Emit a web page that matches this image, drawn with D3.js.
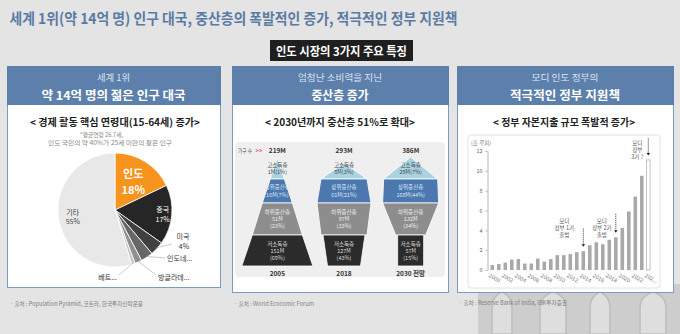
<!DOCTYPE html>
<html><head><meta charset="utf-8">
<script src="https://cdn.jsdelivr.net/npm/d3@7"></script>
<style>
html,body{margin:0;padding:0;background:#e4e4e4;}
svg{display:block;font-family:"Noto Sans CJK KR","Noto Sans",sans-serif;}
</style></head><body>
<svg id="c" width="680" height="334"></svg>
<script>
// ---------- DATA ----------
const pageTitle = "세계 1위(약 14억 명) 인구 대국, 중산층의 폭발적인 증가, 적극적인 정부 지원책";
const sectionLabel = "인도 시장의 3가지 주요 특징";

// Panel 1: population share
const pieCategories = ["인도","중국","미국","인도네...","방글라데...","베트...","기타"];
const pieValues = [18, 17, 4, 3.5, 2, 1, 55];
const piePctLabels = ["18%","17%","4%","","","","55%"];

// Panel 2: middle class households
const mcYears = ["2005","2018","2030 전망"];
const mcTotals = ["219M","293M","386M"];
const mcLayers = ["고소득층","상위중산층","하위중산층","저소득층"];
const mcValues2005 = [1, 16, 51, 151];
const mcValues2018 = [8, 61, 97, 127];
const mcValues2030 = [29, 168, 132, 57];
const mcShares2005 = [1, 7, 23, 69];
const mcShares2018 = [3, 21, 33, 43];
const mcShares2030 = [7, 44, 34, 15];

// Panel 3: government capex (조 루피)
const capexYears = [2000,2001,2002,2003,2004,2005,2006,2007,2008,2009,2010,2011,2012,2013,2014,2015,2016,2017,2018,2019,2020,2021,2022,2023,2024];
const capexValues = [0.5,0.6,0.75,1.05,1.1,0.65,0.65,1.15,0.85,1.1,1.5,1.5,1.6,1.8,1.9,2.5,2.8,2.6,3.05,3.3,4.25,5.9,7.4,9.5,11.1];
const capexTickYears = [2000,2002,2004,2006,2008,2010,2012,2014,2016,2018,2020,2022,2024];
const capexTickLabels = ["2000","2002","2004","2006","2008","2010","2012","2014","2016","2018","2020","2022","202..."];
const capexYTicks = [0,2,4,6,8,10,12];
const capexUnit = "(조 루피)";
const annoYears = [2014, 2019, 2024];
const annoTexts = [["모디","정부 1기","출범"],["모디","정부 2기","출범"],["모디","정부","3기 ?"]];

const sources = ["· 출처 : Population Pyramid, 코트라, 한국투자신탁운용","· 출처 : World Ecocomic Forum","· 출처 : Reserve Bank of India, IBK투자증권"];

// ---------- LAYOUT / STYLE ----------
const svg = d3.select("#c");
const BLUE = "#5c7fab", BORDER = "#7d9bc2";

function txt(g, x, y, s, o) {
  const t = g.append("text").attr("x", x).attr("y", y).text(s)
    .attr("font-size", o.size).attr("fill", o.fill || "#333")
    .attr("font-weight", o.bold ? 700 : 400)
    .attr("text-anchor", o.anchor || "middle")
    .attr("dominant-baseline", "central");
  if (o.width) t.attr("textLength", o.width).attr("lengthAdjust", "spacingAndGlyphs");
  return t;
}

// background decoration (facade)
const deco = svg.append("g");
deco.append("rect").attr("x", 478).attr("y", 284).attr("width", 202).attr("height", 50).attr("fill", "#cdcdcd");
[492, 540, 590, 640].forEach((x, i) => {
  const w = i % 2 ? 26 : 20, top = 296;
  deco.append("path")
    .attr("d", `M${x},334 L${x},${top+12} Q${x},${top} ${x+w/2},${top-4} Q${x+w},${top} ${x+w},${top+12} L${x+w},334 Z`)
    .attr("fill", "#dedede").attr("stroke", "#bdbdbd").attr("stroke-width", 1.5);
});

// Title
txt(svg, 9.5, 17, pageTitle, {size: 15, bold: true, fill: "#5b7ba4", anchor: "start", width: 448});
svg.append("rect").attr("x", 270).attr("y", 40).attr("width", 143).attr("height", 21).attr("fill", "#1f1f1f");
txt(svg, 341.5, 50.5, sectionLabel, {size: 12, bold: true, fill: "#fff", width: 131});

// Panels
const panels = [
  {x: 7, w: 213, h: 221, sm: "세계 1위", smW: 33, big: "약 14억 명의 젊은 인구 대국", bigW: 144,
   sub: "< 경제 활동 핵심 연령대(15-64세) 증가>", subW: 170, subX: 115},
  {x: 232, w: 216, h: 226, sm: "엄청난 소비력을 지닌", smW: 84, big: "중산층 증가", bigW: 57,
   sub: "< 2030년까지 중산층 51%로 확대>", subW: 150, subX: 340},
  {x: 457, w: 216, h: 226, sm: "모디 인도 정부의", smW: 67, big: "적극적인 정부 지원책", bigW: 110,
   sub: "< 정부 자본지출 규모 폭발적 증가>", subW: 142, subX: 564}
];
panels.forEach(p => {
  svg.append("rect").attr("x", p.x + 0.5).attr("y", 66.5).attr("width", p.w).attr("height", p.h)
    .attr("fill", "#fff").attr("stroke", BORDER).attr("stroke-width", 1);
  svg.append("rect").attr("x", p.x).attr("y", 66).attr("width", p.w + 1).attr("height", 39).attr("fill", BLUE);
  const cx = p.x + p.w / 2;
  txt(svg, cx, 77.5, p.sm, {size: 9, fill: "#dbe5f1", width: p.smW});
  txt(svg, cx, 94, p.big, {size: 12, bold: true, fill: "#fff", width: p.bigW});
  txt(svg, p.subX, 121.5, p.sub, {size: 10, bold: true, fill: "#222", width: p.subW});
});

// ---------- Panel 1: pie ----------
txt(svg, 101.5, 134, "*평균연령 26.7세,", {size: 6, fill: "#888", width: 43});
txt(svg, 110, 142, "인도 국민의 약 40%가 25세 미만의 젊은 인구", {size: 6.2, fill: "#888", width: 124});

const pieColors = ["#f7941d","#262626","#404040","#676767","#8f8f8f","#c4c4c4","#e8e8e8"];
const pcx = 115, pcy = 210, pr = 57;
const pieG = svg.append("g").attr("transform", `translate(${pcx},${pcy})`);
const arcs = d3.pie().sort(null).value(d => d)(pieValues);
const arcGen = d3.arc().innerRadius(0).outerRadius(pr);
pieG.selectAll("path").data(arcs).join("path").attr("d", arcGen)
  .attr("fill", (d, i) => pieColors[i]).attr("stroke", "#fff").attr("stroke-width", 0.8);

const polar = (a, r) => [Math.sin(a) * r, -Math.cos(a) * r];
const mid = d => (d.startAngle + d.endAngle) / 2;
// inside labels
const inside = [
  {i: 0, rf: 0.6, size: 11, bold: true, fill: "#fff", gap: 8},
  {i: 1, rf: 0.84, size: 7, bold: false, fill: "#fff", gap: 4.7},
  {i: 6, rf: 0.75, size: 7, bold: false, fill: "#444", gap: 4.7}
];
inside.forEach(L => {
  const [x, y] = polar(mid(arcs[L.i]), pr * L.rf);
  txt(pieG, x, y - L.gap, pieCategories[L.i], {size: L.size, bold: L.bold, fill: L.fill});
  txt(pieG, x, y + L.gap, piePctLabels[L.i], {size: L.size, bold: L.bold, fill: L.fill});
});
// outside labels (layout relative to pie centre)
const outside = [
  {i: 2, lx: 68, ly: 31, ex: 57, ey: 34, anchor: "middle"},
  {i: 3, lx: 52, ly: 48, ex: 50, ey: 48, anchor: "start"},
  {i: 4, lx: 43, ly: 67, ex: 41, ey: 65, anchor: "start"},
  {i: 5, lx: 2, ly: 67, ex: 4, ey: 65, anchor: "end"}
];
outside.forEach(L => {
  const [sx, sy] = polar(mid(arcs[L.i]), pr - 1);
  pieG.append("line").attr("x1", sx).attr("y1", sy).attr("x2", L.ex).attr("y2", L.ey)
    .attr("stroke", "#a8a8a8").attr("stroke-width", 0.6);
  if (piePctLabels[L.i]) {
    txt(pieG, L.lx, L.ly - 4.7, pieCategories[L.i], {size: 7, fill: "#333"});
    txt(pieG, L.lx + 1, L.ly + 4.7, piePctLabels[L.i], {size: 7, fill: "#333"});
  } else {
    txt(pieG, L.lx, L.ly, pieCategories[L.i], {size: 7, fill: "#333", anchor: L.anchor});
  }
});

// ---------- Panel 2: pyramids ----------
svg.append("rect").attr("x", 235).attr("y", 142).attr("width", 210).attr("height", 135).attr("rx", 4).attr("fill", "#efefef");
txt(svg, 238, 150, "가구 수", {size: 6, fill: "#555", anchor: "start", width: 14});
txt(svg, 255.5, 150, ">>", {size: 6, fill: "#e35a5a", anchor: "start", bold: true, width: 7});

const mcX = d3.scaleBand().domain(mcYears).range([244, 444]);
const mcValues = [mcValues2005, mcValues2018, mcValues2030];
const mcShares = [mcShares2005, mcShares2018, mcShares2030];
const layerY = [158, 179, 203, 235, 266];
const apexY = [158, 163, 157];
// half widths [top, bottom] per layer (shape profile)
const profile = [
  [[0, 7], [7, 15], [15, 25], [25, 35.5]],
  [[0, 23], [23, 27], [27, 23], [21, 16.5]],
  [[0, 27], [27, 28], [28, 15], [13, 13]]
];
const layerFill = ["#a9d3e1", "#4c78b0", "#8d8d8d", "#2b2b2b"];
const layerText = ["#4a4a4a", "#dde7f3", "#eeeeee", "#dddddd"];

mcYears.forEach((yr, j) => {
  const cx = mcX(yr) + mcX.bandwidth() / 2;
  txt(svg, cx, 150, mcTotals[j], {size: 6.5, bold: true, fill: "#333"});
  mcLayers.forEach((name, k) => {
    const y0 = k === 0 ? apexY[j] : layerY[k], y1 = layerY[k + 1];
    const [t, b] = profile[j][k];
    const pts = [[cx - t, y0], [cx + t, y0], [cx + b, y1], [cx - b, y1]];
    svg.append("path").attr("d", "M" + pts.map(p => p.join(",")).join("L") + "Z")
      .attr("fill", layerFill[k]).attr("stroke", "#fff").attr("stroke-width", 0.8).attr("stroke-linejoin", "round");
    const ym = (layerY[k] + y1) / 2;
    const v = mcValues[j][k], s = mcShares[j][k];
    const o = {size: 5.5, fill: layerText[k]};
    if (k < 2) {
      txt(svg, cx, ym - 3.6, name, o);
      txt(svg, cx, ym + 3.6, `${v}M(${s}%)`, o);
    } else {
      txt(svg, cx, ym - 7, name, o);
      txt(svg, cx, ym, `${v}M`, o);
      txt(svg, cx, ym + 7, `(${s}%)`, o);
    }
  });
  txt(svg, cx, 272.5, yr, {size: 6.5, bold: true, fill: "#333"});
});

// ---------- Panel 3: capex bars ----------
svg.append("rect").attr("x", 468).attr("y", 135).attr("width", 192).attr("height", 153).attr("rx", 3)
  .attr("fill", "#fff").attr("stroke", "#dadada").attr("stroke-width", 0.8);
const cy = d3.scaleLinear().domain([0, 12]).range([270, 151]);
const cxs = d3.scaleBand().domain(capexYears).range([489.05, 651.55]).paddingInner(0.45).paddingOuter(0.225);
const yAx = svg.append("g").attr("transform", "translate(487.5,0)")
  .call(d3.axisLeft(cy).tickValues(capexYTicks).tickSize(2).tickSizeOuter(0).tickPadding(3));
yAx.select(".domain").attr("stroke", "#999").attr("stroke-width", 0.7);
yAx.selectAll(".tick line").attr("stroke", "#999").attr("stroke-width", 0.7);
yAx.selectAll("text").attr("font-size", 5.5).attr("fill", "#666").attr("font-family", "'Noto Sans CJK KR',sans-serif");
txt(svg, 471, 143, capexUnit, {size: 5.5, fill: "#777", anchor: "start"});

const last = capexYears[capexYears.length - 1];
svg.selectAll("rect.bar").data(capexYears).join("rect").attr("class", "bar")
  .attr("x", d => cxs(d)).attr("width", cxs.bandwidth())
  .attr("y", (d, i) => cy(capexValues[i])).attr("height", (d, i) => cy(0) - cy(capexValues[i]))
  .attr("fill", d => d === last ? "#fff" : "#a9a9a9")
  .attr("stroke", d => d === last ? "#aaa" : "none").attr("stroke-width", 0.7);

capexTickYears.forEach((yr, i) => {
  const x = cxs(yr) + cxs.bandwidth() / 2 - 3;
  svg.append("text").attr("transform", `translate(${x},275) rotate(30)`)
    .attr("font-size", 5.5).attr("fill", "#777").attr("dominant-baseline", "central").text(capexTickLabels[i]);
});

// annotations
const annoLayout = [{dx: -19, ty: 221, len: 18}, {dx: -14, ty: 220.5, len: 19}, {dx: -11, ty: 142.5, len: 17}];
annoYears.forEach((yr, i) => {
  const idx = capexYears.indexOf(yr);
  const xc = cxs(yr) + cxs.bandwidth() / 2;
  const yEnd = cy(capexValues[idx]) - 4.5;
  const L = annoLayout[i];
  svg.append("line").attr("x1", xc).attr("x2", xc).attr("y1", yEnd - L.len).attr("y2", yEnd - 2)
    .attr("stroke", "#333").attr("stroke-width", 1).attr("stroke-dasharray", "1,1");
  svg.append("path").attr("d", `M${xc-1.8},${yEnd-2.5} L${xc+1.8},${yEnd-2.5} L${xc},${yEnd} Z`).attr("fill", "#222");
  annoTexts[i].forEach((s, k) => txt(svg, xc + L.dx, L.ty + k * 7, s, {size: 5.5, fill: "#555"}));
});

// ---------- Sources ----------
txt(svg, 10, 303, sources[0], {size: 6, fill: "#808080", anchor: "start", width: 133});
txt(svg, 234, 303, sources[1], {size: 6, fill: "#808080", anchor: "start", width: 80});
txt(svg, 459, 302, sources[2], {size: 6, fill: "#808080", anchor: "start", width: 108});
</script></body></html>
